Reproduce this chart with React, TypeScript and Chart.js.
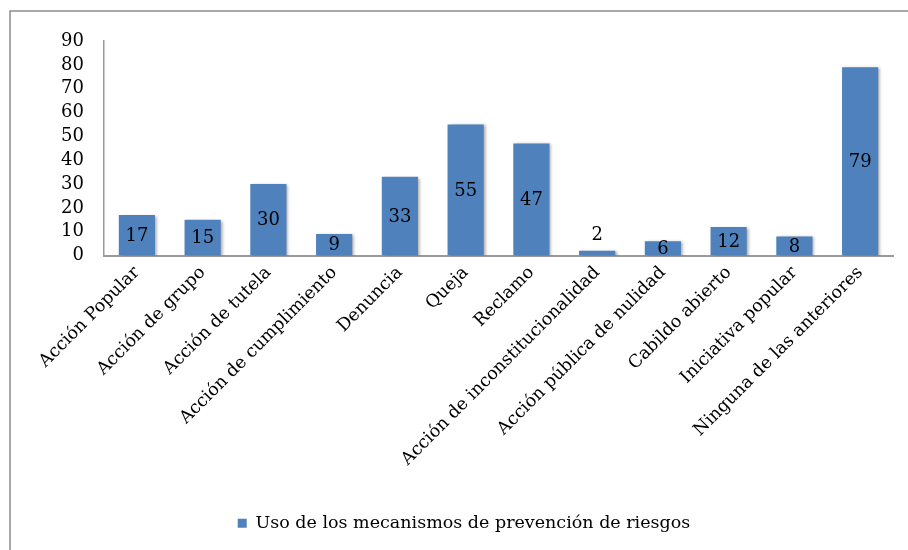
import React, { useEffect, useRef } from "react";
import { Chart, registerables } from "chart.js";

Chart.register(...registerables);

const categories = [
  "Acción Popular",
  "Acción de grupo",
  "Acción de tutela",
  "Acción de cumplimiento",
  "Denuncia",
  "Queja",
  "Reclamo",
  "Acción de inconstitucionalidad",
  "Acción pública de nulidad",
  "Cabildo abierto",
  "Iniciativa popular",
  "Ninguna de las anteriores",
];
const values = [17, 15, 30, 9, 33, 55, 47, 2, 6, 12, 8, 79];
const seriesName = "Uso de los mecanismos de prevención de riesgos";

const FONT = "'DejaVu Serif', 'Liberation Serif', serif";
const BAR = "#4F81BD";

const framePlugin = {
  id: "frame",
  beforeDraw(chart: any) {
    const ctx = chart.ctx;
    ctx.save();
    ctx.fillStyle = "#ffffff";
    ctx.fillRect(0, 0, chart.width, chart.height);
    ctx.strokeStyle = "#8c8c8c";
    ctx.lineWidth = 1.5;
    ctx.beginPath();
    ctx.moveTo(10, chart.height + 5);
    ctx.lineTo(10, 11);
    ctx.lineTo(chart.width + 5, 11);
    ctx.stroke();
    ctx.restore();
  },
};

const shadowPlugin = {
  id: "barShadow",
  beforeDatasetsDraw(chart: any) {
    const ctx = chart.ctx;
    ctx.save();
    ctx.shadowColor = "rgba(0,0,0,0.35)";
    ctx.shadowBlur = 3;
    ctx.shadowOffsetX = 2;
    ctx.shadowOffsetY = 1;
  },
  afterDatasetsDraw(chart: any) {
    chart.ctx.restore();
  },
};

const labelPlugin = {
  id: "valueLabels",
  afterDatasetsDraw(chart: any) {
    const ctx = chart.ctx;
    const meta = chart.getDatasetMeta(0);
    const yScale = chart.scales.y;
    ctx.save();
    ctx.font = `18px ${FONT}`;
    ctx.fillStyle = "#000000";
    ctx.textAlign = "center";
    ctx.textBaseline = "middle";
    meta.data.forEach((bar: any, i: number) => {
      const v = values[i];
      const base = yScale.getPixelForValue(0);
      let y = (bar.y + base) / 2;
      if (v < 5) y = bar.y - 16;
      ctx.fillText(String(v), bar.x, y + 1);
    });
    ctx.restore();
  },
};

export default function App() {
  const ref = useRef<HTMLCanvasElement | null>(null);
  useEffect(() => {
    if (!ref.current) return;
    const chart = new Chart(ref.current, {
      type: "bar",
      data: {
        labels: categories,
        datasets: [
          {
            label: seriesName,
            data: values,
            backgroundColor: BAR,
            borderWidth: 0,
            barPercentage: 0.55,
            categoryPercentage: 1,
          },
        ],
      },
      options: {
        animation: false,
        responsive: false,
        maintainAspectRatio: false,
        layout: { padding: { left: 35, top: 41, right: 15, bottom: 8 } },
        plugins: {
          legend: {
            position: "bottom",
            labels: {
              font: { family: FONT, size: 17.5 },
              color: "#000000",
              boxWidth: 9,
              boxHeight: 9,
              padding: 12,
            },
          },
          tooltip: { enabled: false },
        },
        scales: {
          x: {
            grid: { display: false, drawTicks: false },
            border: { color: "#9a9a9a", width: 2 },
            ticks: {
              autoSkip: false,
              minRotation: 45,
              maxRotation: 45,
              padding: 7,
              color: "#000000",
              font: { family: FONT, size: 17.5 },
            },
            afterFit(scale: any) {
              scale.height = 247;
            },
          },
          y: {
            min: 0,
            max: 90,
            grid: { display: false, drawTicks: false },
            border: { color: "#9a9a9a", width: 1.5 },
            ticks: {
              stepSize: 10,
              autoSkip: false,
              padding: 20,
              color: "#000000",
              font: { family: FONT, size: 18, lineHeight: 1 },
            },
            afterFit(scale: any) {
              scale.width = 69;
            },
          },
        },
      },
      plugins: [framePlugin, shadowPlugin, labelPlugin],
    });
    return () => chart.destroy();
  }, []);
  return (
    <div style={{ position: "absolute", left: 0, top: 0, width: 908, height: 550 }}>
      <canvas ref={ref} width={908} height={550} style={{ width: 908, height: 550 }} />
    </div>
  );
}
